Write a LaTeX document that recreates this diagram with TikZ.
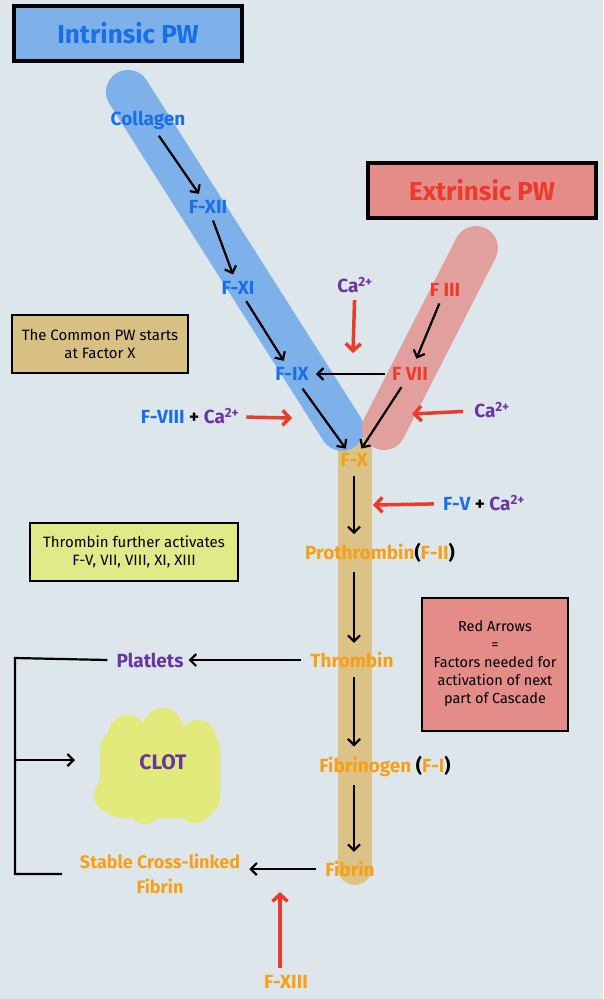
\documentclass[tikz,border=0pt]{standalone}
\usepackage{fontspec}
\setmainfont{Fira Sans}
\usetikzlibrary{arrows.meta}
\definecolor{bg}{HTML}{DCE6EB}
\definecolor{bandblue}{HTML}{7EB1EA}
\definecolor{fblue}{HTML}{1B6FE6}
\definecolor{bandred}{HTML}{E1A09E}
\definecolor{boxred}{HTML}{E38C88}
\definecolor{fred}{HTML}{EC3B2A}
\definecolor{bandtan}{HTML}{DCC286}
\definecolor{boxtan}{HTML}{D8C085}
\definecolor{boxyel}{HTML}{E1EA88}
\definecolor{clotyel}{HTML}{E2EA7C}
\definecolor{purp}{HTML}{6A35A0}
\definecolor{forange}{HTML}{F5A016}
\begin{document}
\begin{tikzpicture}[x=1pt,y=-1pt,
  titlebox/.style={draw=black,line width=4pt,minimum width=228pt,minimum height=55pt,font=\fontsize{26}{28}\selectfont\bfseries},
  note/.style={draw=black,line width=2pt,align=center,font=\fontsize{15}{18}\selectfont,inner sep=4pt},
  lbl/.style={font=\fontsize{19}{21}\selectfont\bfseries,inner sep=3pt},
  arr/.style={draw=black,line width=2.2pt,-{Straight Barb[length=6pt,width=12pt,line width=2.2pt]}},
  rarr/.style={draw=fred,line width=3.5pt,-{Straight Barb[length=7pt,width=15pt,line width=3.5pt]}},
  band/.style={line width=44pt,line cap=round}
]
\useasboundingbox (0,0) rectangle (603,999);
\fill[bg] (0,0) rectangle (603,999);

% bands
\draw[band,bandtan,line width=34pt] (355,450) -- (355,868);
\draw[band,bandblue] (128,92) -- (342,429);
\draw[band,bandred] (476,248) -- (384,428);

% title boxes
\node[titlebox,fill=bandblue,text=fblue] (intr) at (128,33) {Intrinsic PW};
\node[titlebox,fill=boxred,text=fred] (extr) at (482,190) {Extrinsic PW};

% intrinsic chain
\node[lbl,text=fblue] (coll) at (148,120) {Collagen};
\node[lbl,text=fblue] (fxii) at (208,207) {F-XII};
\node[lbl,text=fblue] (fxi) at (238,288) {F-XI};
\node[lbl,text=fblue] (fix) at (292,374) {F-IX};
\node[lbl] (f8) at (190,416) {\color{fblue}F-VIII \color{black}+ \color{purp}Ca\textsuperscript{2+}};

% extrinsic chain
\node[lbl,text=fred] (f3) at (445,290) {F III};
\node[lbl,text=fred] (f7) at (410,374) {F VII};
\node[lbl,text=purp] (ca1) at (355,285) {Ca\textsuperscript{2+}};
\node[lbl,text=purp] (ca2) at (492,410) {Ca\textsuperscript{2+}};
\coordinate (ca1t) at (353,353);
\coordinate (ca2t) at (412,414);
\coordinate (f8t) at (292,418);

% common
\node[lbl,text=forange] (fx) at (354,460) {F-X};
\node[lbl] (fv) at (484,503) {\color{fblue}F-V \color{black}+ \color{purp}Ca\textsuperscript{2+}};
\coordinate (fvt) at (373,505);
\node[lbl] (proth) at (380,553) {\color{forange}Prothrombin\color{black}(\color{forange}F-II\color{black})};
\node[lbl,text=forange] (thr) at (352,660) {Thrombin};
\node[lbl] (fgen) at (385,766) {\color{forange}Fibrinogen \color{black}(\color{forange}F-I\color{black})};
\node[lbl,text=forange] (fib) at (350,869) {Fibrin};
\node[lbl,text=purp] (plat) at (150,660) {Platlets};
\node[lbl,text=forange,align=center,font=\fontsize{18}{25}\selectfont\bfseries] (stab) at (160,874) {Stable Cross-linked\\Fibrin};
\node[lbl,text=forange] (f13) at (286,982) {F-XIII};

% clot blob
\begin{scope}
\fill[clotyel,rounded corners=22pt] (100,728) rectangle (220,818);
\fill[clotyel] (128,735) circle (20);
\fill[clotyel] (163,728) circle (20);
\fill[clotyel] (198,738) circle (18);
\fill[clotyel] (112,795) circle (18);
\fill[clotyel] (145,808) circle (16);
\fill[clotyel] (195,805) circle (18);
\end{scope}
\node[lbl,text=purp,font=\fontsize{21}{23}\selectfont\bfseries] (clot) at (163,762) {CLOT};

% notes
\node[note,fill=boxtan,minimum width=176pt,minimum height=58pt] (common) at (100,344) {The Common PW starts\\at Factor X};
\node[note,fill=boxyel,minimum width=208pt,minimum height=58pt] (thnote) at (134,552) {Thrombin further activates\\F-V, VII, VIII, XI, XIII};
\node[note,fill=boxred,minimum width=146pt,minimum height=133pt,font=\fontsize{14.5}{18}\selectfont] (rednote) at (495,664) {Red Arrows\\=\\Factors needed for\\activation of next\\part of Cascade};

% black arrows
\draw[arr,shorten <=4pt,shorten >=4pt] (coll) -- (fxii);
\draw[arr,shorten <=4pt,shorten >=4pt] (fxii) -- (fxi);
\draw[arr,shorten <=4pt,shorten >=4pt] (fxi) -- (fix);
\draw[arr,shorten <=6pt,shorten >=2pt] (fix) -- (fx);
\draw[arr,shorten <=4pt,shorten >=6pt] (f3) -- (f7);
\draw[arr,shorten <=4pt,shorten >=2pt] (f7) -- (fx);
\draw[arr,shorten <=4pt,shorten >=4pt] (f7) -- (fix);
\draw[arr,shorten <=6pt,shorten >=6pt] (fx) -- (proth.north -| fx);
\draw[arr,shorten <=6pt,shorten >=6pt] (proth.south -| fx) -- (thr.north -| fx);
\draw[arr,shorten <=6pt,shorten >=2pt] (thr) -- (plat);
\draw[arr,shorten <=6pt,shorten >=6pt] (thr.south -| fx) -- (fgen.north -| fx);
\draw[arr,shorten <=6pt,shorten >=6pt] (fgen.south -| fx) -- (fib.north -| fx);
\draw[arr,shorten <=6pt,shorten >=6pt] (fib) -- (fib -| stab.east);

% bracket
\coordinate (brtop) at (15,658);
\coordinate (brmid) at (15,760);
\coordinate (brbot) at (15,874);
\draw[line width=2.2pt] (plat.west) ++(-6,0) -- (brtop) -- (brbot) -- ++(47,0);
\draw[arr] (brmid) -- (75,760);

% red arrows
\draw[rarr,shorten <=4pt] (ca1) -- (ca1t);
\draw[rarr,shorten <=8pt] (ca2) -- (ca2t);
\draw[rarr,shorten <=4pt] (f8) -- (f8t);
\draw[rarr,shorten <=6pt] (fv) -- (fvt);
\draw[rarr,shorten <=4pt,shorten >=12pt] (f13.north -| 280,0) -- (280,880);
\end{tikzpicture}
\end{document}
